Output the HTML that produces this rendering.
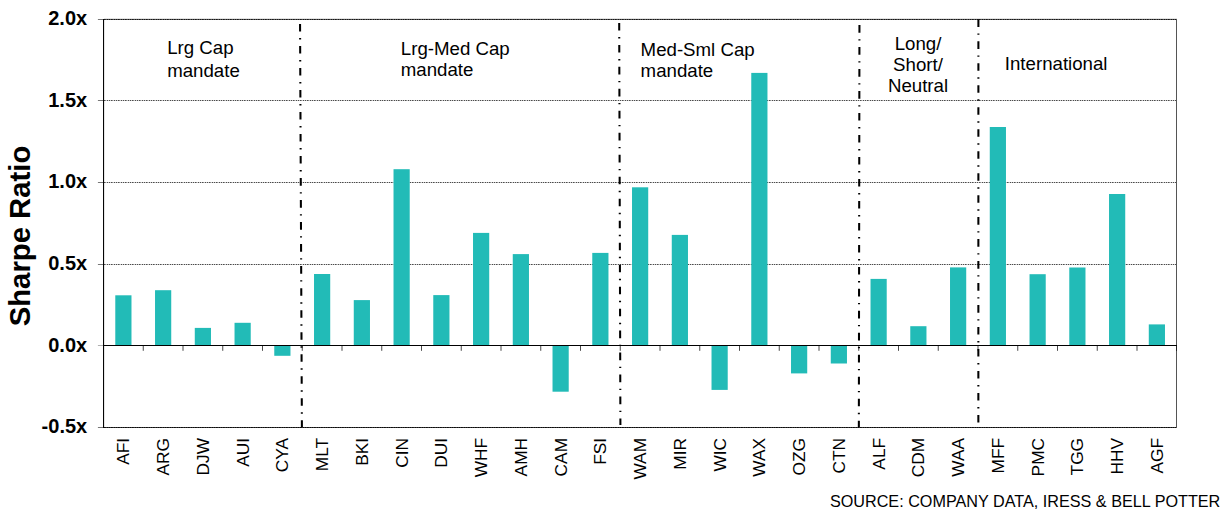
<!DOCTYPE html>
<html><head><meta charset="utf-8"><title>Sharpe Ratio</title>
<style>html,body{margin:0;padding:0;background:#fff;}body{width:1225px;height:511px;overflow:hidden;}svg{display:block;}text{font-family:"Liberation Sans",sans-serif;fill:#000;}</style></head><body>
<svg width="1225" height="511" viewBox="0 0 1225 511">
<defs>
<pattern id="pg" width="7" height="1" patternUnits="userSpaceOnUse"><rect x="0" y="0" width="1" height="1" fill="#8c8c8c"/><rect x="1" y="0" width="1" height="1" fill="#cccccc"/><rect x="2" y="0" width="1" height="1" fill="#4c4c4c"/><rect x="3" y="0" width="1" height="1" fill="#cccccc"/><rect x="4" y="0" width="1" height="1" fill="#4c4c4c"/><rect x="5" y="0" width="1" height="1" fill="#cccccc"/><rect x="6" y="0" width="1" height="1" fill="#4c4c4c"/></pattern>
<pattern id="pd" width="7" height="1" patternUnits="userSpaceOnUse"><rect x="0" y="0" width="1" height="1" fill="#181818"/><rect x="1" y="0" width="1" height="1" fill="#363636"/><rect x="2" y="0" width="1" height="1" fill="#0c0c0c"/><rect x="3" y="0" width="1" height="1" fill="#363636"/><rect x="4" y="0" width="1" height="1" fill="#0c0c0c"/><rect x="5" y="0" width="1" height="1" fill="#363636"/><rect x="6" y="0" width="1" height="1" fill="#0c0c0c"/></pattern>
<pattern id="pt" width="7" height="1" patternUnits="userSpaceOnUse"><rect x="0" y="0" width="1" height="1" fill="#303030"/><rect x="1" y="0" width="1" height="1" fill="#585858"/><rect x="2" y="0" width="1" height="1" fill="#181818"/><rect x="3" y="0" width="1" height="1" fill="#585858"/><rect x="4" y="0" width="1" height="1" fill="#181818"/><rect x="5" y="0" width="1" height="1" fill="#585858"/><rect x="6" y="0" width="1" height="1" fill="#181818"/></pattern>
</defs>
<rect width="1225" height="511" fill="#fff"/>
<rect x="104" y="100" width="1073" height="1" fill="url(#pg)" shape-rendering="crispEdges"/>
<rect x="104" y="182" width="1073" height="1" fill="url(#pg)" shape-rendering="crispEdges"/>
<rect x="104" y="264" width="1073" height="1" fill="url(#pg)" shape-rendering="crispEdges"/>
<rect x="104" y="18" width="1073" height="1" fill="#e4e4e4" shape-rendering="crispEdges"/>
<rect x="104" y="19" width="1073" height="1" fill="url(#pt)" shape-rendering="crispEdges"/>
<rect x="104" y="427" width="1073" height="1" fill="url(#pd)" shape-rendering="crispEdges"/>
<rect x="1176" y="19" width="1" height="409" fill="#555" shape-rendering="crispEdges"/>
<rect x="97.9" y="19" width="5.6" height="1" fill="#777"/>
<rect x="97.9" y="100" width="5.6" height="1" fill="#777"/>
<rect x="97.9" y="182" width="5.6" height="1" fill="#777"/>
<rect x="97.9" y="264" width="5.6" height="1" fill="#777"/>
<rect x="97.9" y="345" width="5.6" height="1" fill="#b0b0b0"/>
<rect x="97.9" y="427" width="5.6" height="1" fill="#777"/>
<rect x="115.28" y="295.30" width="16.2" height="49.70" fill="#22bbb7"/>
<rect x="155.03" y="290.20" width="16.2" height="54.80" fill="#22bbb7"/>
<rect x="194.78" y="327.90" width="16.2" height="17.10" fill="#22bbb7"/>
<rect x="234.53" y="322.80" width="16.2" height="22.20" fill="#22bbb7"/>
<rect x="274.27" y="346.00" width="16.2" height="9.80" fill="#22bbb7"/>
<rect x="314.02" y="274.00" width="16.2" height="71.00" fill="#22bbb7"/>
<rect x="353.77" y="300.10" width="16.2" height="44.90" fill="#22bbb7"/>
<rect x="393.52" y="169.20" width="16.2" height="175.80" fill="#22bbb7"/>
<rect x="433.27" y="295.10" width="16.2" height="49.90" fill="#22bbb7"/>
<rect x="473.02" y="232.90" width="16.2" height="112.10" fill="#22bbb7"/>
<rect x="512.77" y="254.10" width="16.2" height="90.90" fill="#22bbb7"/>
<rect x="552.52" y="346.00" width="16.2" height="45.70" fill="#22bbb7"/>
<rect x="592.27" y="252.90" width="16.2" height="92.10" fill="#22bbb7"/>
<rect x="632.02" y="187.30" width="16.2" height="157.70" fill="#22bbb7"/>
<rect x="671.77" y="234.90" width="16.2" height="110.10" fill="#22bbb7"/>
<rect x="711.52" y="346.00" width="16.2" height="43.90" fill="#22bbb7"/>
<rect x="751.27" y="72.90" width="16.2" height="272.10" fill="#22bbb7"/>
<rect x="791.02" y="346.00" width="16.2" height="27.40" fill="#22bbb7"/>
<rect x="830.77" y="346.00" width="16.2" height="17.50" fill="#22bbb7"/>
<rect x="870.52" y="278.90" width="16.2" height="66.10" fill="#22bbb7"/>
<rect x="910.27" y="326.20" width="16.2" height="18.80" fill="#22bbb7"/>
<rect x="950.02" y="267.40" width="16.2" height="77.60" fill="#22bbb7"/>
<rect x="989.77" y="127.00" width="16.2" height="218.00" fill="#22bbb7"/>
<rect x="1029.53" y="274.20" width="16.2" height="70.80" fill="#22bbb7"/>
<rect x="1069.28" y="267.50" width="16.2" height="77.50" fill="#22bbb7"/>
<rect x="1109.03" y="194.00" width="16.2" height="151.00" fill="#22bbb7"/>
<rect x="1148.78" y="324.40" width="16.2" height="20.60" fill="#22bbb7"/>
<rect x="142.75" y="346" width="1" height="4.8" fill="#4a4a4a"/>
<rect x="182.50" y="346" width="1" height="4.8" fill="#4a4a4a"/>
<rect x="222.25" y="346" width="1" height="4.8" fill="#4a4a4a"/>
<rect x="262.00" y="346" width="1" height="4.8" fill="#4a4a4a"/>
<rect x="301.75" y="346" width="1" height="4.8" fill="#4a4a4a"/>
<rect x="341.50" y="346" width="1" height="4.8" fill="#4a4a4a"/>
<rect x="381.25" y="346" width="1" height="4.8" fill="#4a4a4a"/>
<rect x="421.00" y="346" width="1" height="4.8" fill="#4a4a4a"/>
<rect x="460.75" y="346" width="1" height="4.8" fill="#4a4a4a"/>
<rect x="500.50" y="346" width="1" height="4.8" fill="#4a4a4a"/>
<rect x="540.25" y="346" width="1" height="4.8" fill="#4a4a4a"/>
<rect x="580.00" y="346" width="1" height="4.8" fill="#4a4a4a"/>
<rect x="619.75" y="346" width="1" height="4.8" fill="#4a4a4a"/>
<rect x="659.50" y="346" width="1" height="4.8" fill="#4a4a4a"/>
<rect x="699.25" y="346" width="1" height="4.8" fill="#4a4a4a"/>
<rect x="739.00" y="346" width="1" height="4.8" fill="#4a4a4a"/>
<rect x="778.75" y="346" width="1" height="4.8" fill="#4a4a4a"/>
<rect x="818.50" y="346" width="1" height="4.8" fill="#4a4a4a"/>
<rect x="858.25" y="346" width="1" height="4.8" fill="#4a4a4a"/>
<rect x="898.00" y="346" width="1" height="4.8" fill="#4a4a4a"/>
<rect x="937.75" y="346" width="1" height="4.8" fill="#4a4a4a"/>
<rect x="977.50" y="346" width="1" height="4.8" fill="#4a4a4a"/>
<rect x="1017.25" y="346" width="1" height="4.8" fill="#4a4a4a"/>
<rect x="1057.00" y="346" width="1" height="4.8" fill="#4a4a4a"/>
<rect x="1096.75" y="346" width="1" height="4.8" fill="#4a4a4a"/>
<rect x="1136.50" y="346" width="1" height="4.8" fill="#4a4a4a"/>
<rect x="1176" y="346" width="1" height="5" fill="#222"/>
<rect x="103" y="345" width="1074" height="1" fill="#000" shape-rendering="crispEdges"/>
<rect x="103.02" y="19" width="1.08" height="409" fill="#000"/>
<line x1="300.05" y1="23.9" x2="301.9" y2="427.3" stroke="#000" stroke-width="2.05" stroke-dasharray="7.6 6.5 1.4 6.52"/>
<line x1="619.2" y1="22.9" x2="620.4" y2="424.9" stroke="#000" stroke-width="2.05" stroke-dasharray="7.6 6.5 1.4 6.48"/>
<line x1="859.45" y1="25.1" x2="858.85" y2="427.3" stroke="#000" stroke-width="2.05" stroke-dasharray="7.6 6.5 1.4 6.48"/>
<line x1="978.4" y1="19.3" x2="978.35" y2="422.6" stroke="#000" stroke-width="2.05" stroke-dasharray="7.6 6.5 1.4 6.48"/>
<text x="87.2" y="25" font-size="20" font-weight="bold" text-anchor="end">2.0x</text>
<text x="87.2" y="107" font-size="20" font-weight="bold" text-anchor="end">1.5x</text>
<text x="87.2" y="188" font-size="20" font-weight="bold" text-anchor="end">1.0x</text>
<text x="87.2" y="270" font-size="20" font-weight="bold" text-anchor="end">0.5x</text>
<text x="87.2" y="352" font-size="20" font-weight="bold" text-anchor="end">0.0x</text>
<text x="87.2" y="433" font-size="20" font-weight="bold" text-anchor="end">-0.5x</text>
<text transform="translate(29.7,236.0) rotate(-90)" font-size="29.3" font-weight="bold" text-anchor="middle">Sharpe Ratio</text>
<text transform="translate(129.28,437.9) rotate(-90)" font-size="17.33" text-anchor="end">AFI</text>
<text transform="translate(169.03,437.9) rotate(-90)" font-size="17.33" text-anchor="end">ARG</text>
<text transform="translate(208.78,437.9) rotate(-90)" font-size="17.33" text-anchor="end">DJW</text>
<text transform="translate(248.53,437.9) rotate(-90)" font-size="17.33" text-anchor="end">AUI</text>
<text transform="translate(288.27,437.9) rotate(-90)" font-size="17.33" text-anchor="end">CYA</text>
<text transform="translate(328.02,437.9) rotate(-90)" font-size="17.33" text-anchor="end">MLT</text>
<text transform="translate(367.77,437.9) rotate(-90)" font-size="17.33" text-anchor="end">BKI</text>
<text transform="translate(407.52,437.9) rotate(-90)" font-size="17.33" text-anchor="end">CIN</text>
<text transform="translate(447.27,437.9) rotate(-90)" font-size="17.33" text-anchor="end">DUI</text>
<text transform="translate(487.02,437.9) rotate(-90)" font-size="17.33" text-anchor="end">WHF</text>
<text transform="translate(526.77,437.9) rotate(-90)" font-size="17.33" text-anchor="end">AMH</text>
<text transform="translate(566.52,437.9) rotate(-90)" font-size="17.33" text-anchor="end">CAM</text>
<text transform="translate(606.27,437.9) rotate(-90)" font-size="17.33" text-anchor="end">FSI</text>
<text transform="translate(646.02,437.9) rotate(-90)" font-size="17.33" text-anchor="end">WAM</text>
<text transform="translate(685.77,437.9) rotate(-90)" font-size="17.33" text-anchor="end">MIR</text>
<text transform="translate(725.52,437.9) rotate(-90)" font-size="17.33" text-anchor="end">WIC</text>
<text transform="translate(765.27,437.9) rotate(-90)" font-size="17.33" text-anchor="end">WAX</text>
<text transform="translate(805.02,437.9) rotate(-90)" font-size="17.33" text-anchor="end">OZG</text>
<text transform="translate(844.77,437.9) rotate(-90)" font-size="17.33" text-anchor="end">CTN</text>
<text transform="translate(884.52,437.9) rotate(-90)" font-size="17.33" text-anchor="end">ALF</text>
<text transform="translate(924.27,437.9) rotate(-90)" font-size="17.33" text-anchor="end">CDM</text>
<text transform="translate(964.02,437.9) rotate(-90)" font-size="17.33" text-anchor="end">WAA</text>
<text transform="translate(1003.77,437.9) rotate(-90)" font-size="17.33" text-anchor="end">MFF</text>
<text transform="translate(1043.53,437.9) rotate(-90)" font-size="17.33" text-anchor="end">PMC</text>
<text transform="translate(1083.28,437.9) rotate(-90)" font-size="17.33" text-anchor="end">TGG</text>
<text transform="translate(1123.03,437.9) rotate(-90)" font-size="17.33" text-anchor="end">HHV</text>
<text transform="translate(1162.78,437.9) rotate(-90)" font-size="17.33" text-anchor="end">AGF</text>
<text x="167.2" y="54" font-size="18.67" text-anchor="start">Lrg Cap</text>
<text x="167.2" y="77" font-size="18.67" text-anchor="start">mandate</text>
<text x="400.8" y="55" font-size="18.67" text-anchor="start">Lrg-Med Cap</text>
<text x="400.8" y="76" font-size="18.67" text-anchor="start">mandate</text>
<text x="640.6" y="56" font-size="18.67" text-anchor="start">Med-Sml Cap</text>
<text x="640.6" y="77" font-size="18.67" text-anchor="start">mandate</text>
<text x="918" y="50" font-size="18.67" text-anchor="middle">Long/</text>
<text x="918" y="71.0" font-size="18.67" text-anchor="middle">Short/</text>
<text x="918" y="92" font-size="18.67" text-anchor="middle">Neutral</text>
<text x="1004.8" y="70" font-size="18.67" text-anchor="start">International</text>
<text x="1220.3" y="507" font-size="16.2" text-anchor="end">SOURCE: COMPANY DATA, IRESS &amp; BELL POTTER</text>
</svg></body></html>
